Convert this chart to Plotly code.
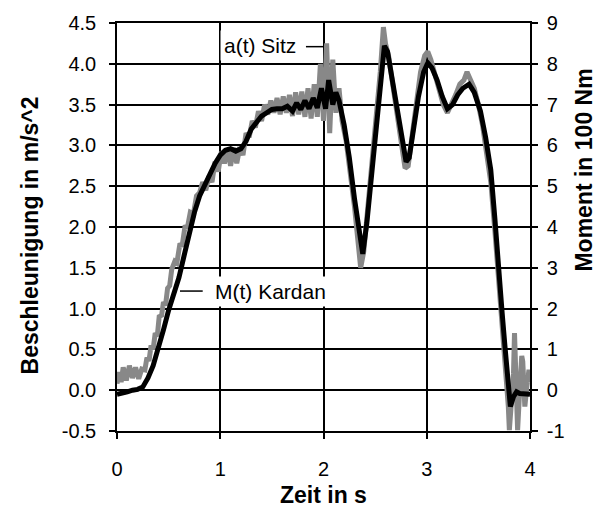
import plotly.graph_objects as go

# M(t) Kardan (right axis, Moment in 100 Nm)
m_time = [0.00, 0.05, 0.10, 0.15, 0.20, 0.25, 0.30, 0.35, 0.40, 0.45, 0.50, 0.55, 0.60, 0.65, 0.70,
          0.75, 0.80, 0.85, 0.90, 0.95, 1.00, 1.05, 1.10, 1.15, 1.20, 1.25, 1.30, 1.35, 1.40, 1.45,
          1.50, 1.55, 1.60, 1.65, 1.70, 1.74, 1.78, 1.82, 1.86, 1.90, 1.94, 1.98, 2.02, 2.05, 2.09,
          2.12, 2.15, 2.20, 2.25, 2.30, 2.35, 2.38, 2.42, 2.46, 2.50, 2.55, 2.59, 2.62, 2.66, 2.70,
          2.75, 2.80, 2.83, 2.87, 2.92, 2.97, 3.01, 3.05, 3.10, 3.15, 3.20, 3.25, 3.30, 3.35, 3.41,
          3.46, 3.52, 3.57, 3.62, 3.66, 3.70, 3.73, 3.76, 3.79, 3.81, 3.84, 3.87, 3.90, 3.95, 4.00]
m_kardan = [-0.10, -0.08, -0.04, 0.00, 0.02, 0.08, 0.30, 0.60, 1.00, 1.48, 1.96, 2.36, 2.76, 3.30, 3.90,
            4.36, 4.76, 5.04, 5.30, 5.56, 5.76, 5.88, 5.92, 5.86, 5.92, 6.10, 6.40, 6.56, 6.72, 6.80,
            6.88, 6.90, 6.90, 6.96, 6.84, 7.04, 6.88, 7.10, 6.90, 7.16, 6.92, 7.40, 6.90, 7.60, 7.00,
            7.30, 7.10, 6.50, 5.70, 4.70, 3.70, 3.34, 4.10, 5.20, 6.20, 7.60, 8.44, 8.30, 7.70, 7.10,
            6.20, 5.60, 5.70, 6.40, 7.20, 7.80, 8.02, 7.90, 7.60, 7.20, 6.90, 7.00, 7.24, 7.40, 7.50,
            7.30, 6.84, 6.20, 5.40, 4.20, 2.70, 1.90, 1.00, 0.20, -0.40, -0.16, -0.04, -0.08, -0.10, -0.10]

# a(t) Sitz (left axis, Beschleunigung in m/s^2)
a_time = [0.00, 0.02, 0.04, 0.06, 0.09, 0.12, 0.15, 0.18, 0.21, 0.24, 0.27, 0.29, 0.31, 0.33, 0.35,
          0.37, 0.39, 0.41, 0.43, 0.45, 0.47, 0.49, 0.51, 0.53, 0.56, 0.58, 0.61, 0.63, 0.66, 0.68,
          0.71, 0.74, 0.77, 0.80, 0.83, 0.86, 0.89, 0.92, 0.95, 0.98, 1.01, 1.04, 1.07, 1.10, 1.13,
          1.16, 1.19, 1.22,
          1.25, 1.28, 1.31, 1.34, 1.37, 1.40, 1.43, 1.46, 1.49, 1.52, 1.55, 1.58, 1.61, 1.64, 1.67,
          1.70, 1.73, 1.76, 1.79, 1.82, 1.85, 1.88, 1.91, 1.94, 1.97, 2.00, 2.03, 2.06, 2.09, 2.12,
          2.15, 2.18, 2.22, 2.26, 2.30, 2.34, 2.36, 2.39, 2.43, 2.47, 2.51, 2.55, 2.58, 2.60, 2.63,
          2.67, 2.71, 2.75, 2.79, 2.82, 2.86, 2.90, 2.94, 2.98, 3.01, 3.04, 3.08, 3.12, 3.16, 3.20,
          3.24, 3.28, 3.32, 3.36, 3.39, 3.42, 3.46, 3.50, 3.54, 3.58, 3.62, 3.66, 3.70, 3.73, 3.75,
          3.77, 3.79, 3.80, 3.82, 3.84, 3.85, 3.86, 3.88, 3.90, 3.92, 3.93, 3.95, 3.97, 3.99, 4.00]
a_sitz = [0.08, 0.22, 0.10, 0.28, 0.12, 0.30, 0.15, 0.28, 0.14, 0.26, 0.25, 0.40, 0.36, 0.55, 0.50,
          0.70, 0.66, 0.92, 0.90, 1.08, 1.04, 1.25, 1.28, 1.48, 1.58, 1.56, 1.80, 1.76, 2.02, 1.98,
          2.18, 2.16, 2.38, 2.42, 2.55, 2.45, 2.62, 2.55, 2.80, 2.68, 2.92, 2.78, 2.95, 2.75, 2.97,
          2.78, 2.98, 2.88,
          3.15, 3.10, 3.30, 3.22, 3.42, 3.30, 3.50, 3.38, 3.55, 3.40, 3.58, 3.38, 3.60, 3.40, 3.62,
          3.36, 3.65, 3.38, 3.66, 3.35, 3.70, 3.33, 3.75, 3.35, 4.00, 3.30, 4.25, 3.15, 4.05, 3.40,
          3.70, 3.30, 3.05, 2.70, 2.25, 1.75, 1.50, 1.70, 2.20, 2.80, 3.35, 3.90, 4.45, 4.25, 4.10,
          3.75, 3.40, 3.05, 2.72, 2.75, 3.10, 3.55, 3.90, 4.10, 4.15, 4.05, 3.85, 3.70, 3.50, 3.40,
          3.50, 3.62, 3.75, 3.80, 3.90, 3.80, 3.70, 3.50, 3.25, 2.90, 2.55, 1.95, 1.30, 0.95, 0.60,
          0.30, -0.20, -0.49, -0.10, 0.20, 0.70, 0.10, -0.49, 0.00, 0.42, 0.35, -0.20, 0.05, 0.25, 0.10]

x_ticks = [0, 1, 2, 3, 4]
left_ticks = [-0.5, 0.0, 0.5, 1.0, 1.5, 2.0, 2.5, 3.0, 3.5, 4.0, 4.5]
left_labels = ["-0.5", "0.0", "0.5", "1.0", "1.5", "2.0", "2.5", "3.0", "3.5", "4.0", "4.5"]
right_ticks = [-1, 0, 1, 2, 3, 4, 5, 6, 7, 8, 9]
right_labels = ["-1", "0", "1", "2", "3", "4", "5", "6", "7", "8", "9"]

FONT = "Liberation Sans, Arial, sans-serif"

fig = go.Figure()
fig.add_trace(go.Scatter(x=a_time, y=a_sitz, mode="lines", name="a(t) Sitz",
                         line=dict(color="#888888", width=5), yaxis="y"))
fig.add_trace(go.Scatter(x=m_time, y=m_kardan, mode="lines", name="M(t) Kardan",
                         line=dict(color="#000000", width=5), yaxis="y2"))

axis_common = dict(showline=True, linecolor="black", linewidth=1.5, ticks="outside",
                   tickcolor="black", tickwidth=1.5, ticklen=6, zeroline=False,
                   tickfont=dict(family=FONT, size=20, color="black"))

fig.update_layout(
    width=607, height=508,
    margin=dict(l=117, r=77, t=20, b=77),
    paper_bgcolor="white", plot_bgcolor="white",
    showlegend=False,
    xaxis=dict(range=[0, 4], tickvals=x_ticks, showgrid=True, gridcolor="black", gridwidth=1.5,
               mirror=True, ticklabelstandoff=13, **axis_common),
    yaxis=dict(range=[-0.5, 4.5], tickvals=left_ticks, ticktext=left_labels, showgrid=True,
               gridcolor="black", gridwidth=1.5, ticklabelstandoff=9, **axis_common),
    yaxis2=dict(range=[-1, 9], tickvals=right_ticks, ticktext=right_labels, overlaying="y",
                side="right", showgrid=False, ticklabelstandoff=5, **axis_common),
    annotations=[
        dict(text="<b>Zeit in s</b>", xref="paper", yref="paper", x=0.5, y=-0.158,
             xanchor="center", yanchor="middle", showarrow=False,
             font=dict(family=FONT, size=23, color="black")),
        dict(text="<b>Beschleunigung in m/s^2</b>", xref="paper", yref="paper", x=-0.21, y=0.48,
             xanchor="center", yanchor="middle", showarrow=False, textangle=-90,
             font=dict(family=FONT, size=23, color="black")),
        dict(text="<b>Moment in 100 Nm</b>", xref="paper", yref="paper", x=1.13, y=0.64,
             xanchor="center", yanchor="middle", showarrow=False, textangle=-90,
             font=dict(family=FONT, size=23, color="black")),
        dict(text="a(t) Sitz", xref="x", yref="y", x=1.77, y=4.23, xanchor="right",
             yanchor="middle", showarrow=False, bgcolor="white", borderpad=3,
             font=dict(family=FONT, size=21, color="black")),
        dict(text="M(t) Kardan", xref="x", yref="y", x=0.91, y=1.215, xanchor="left",
             yanchor="middle", showarrow=False, bgcolor="white", borderpad=3,
             font=dict(family=FONT, size=21, color="black")),
    ],
    shapes=[
        dict(type="line", xref="x", yref="y", x0=1.83, x1=2.0, y0=4.21, y1=4.21,
             line=dict(color="black", width=1.5)),
        dict(type="line", xref="x", yref="y", x0=0.61, x1=0.83, y0=1.215, y1=1.215,
             line=dict(color="black", width=1.5)),
    ],
)

fig.write_html("out.html")
